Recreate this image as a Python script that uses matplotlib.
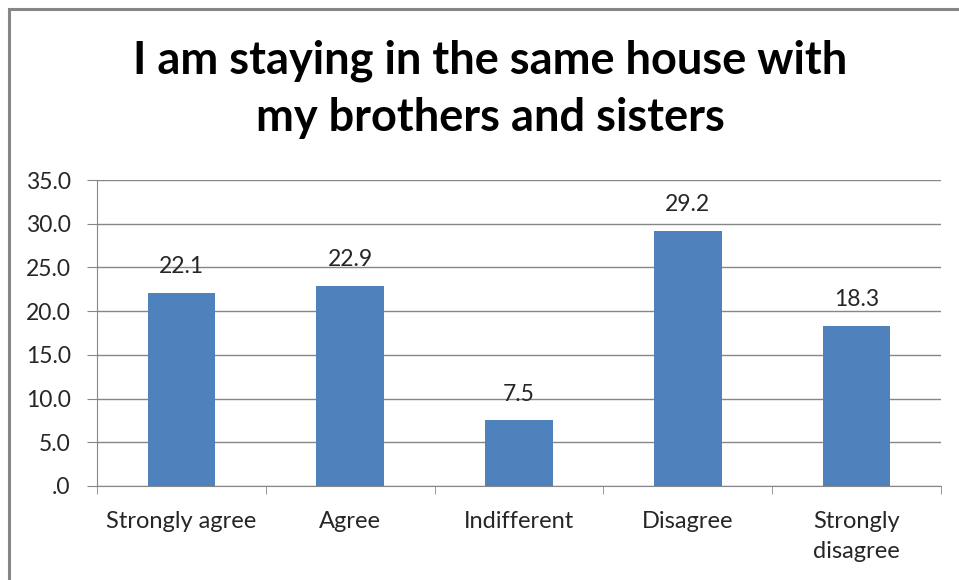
import matplotlib.pyplot as plt
from matplotlib.patches import Rectangle

categories = ['Strongly agree', 'Agree', 'Indifferent', 'Disagree', 'Strongly\ndisagree']
values = [22.1, 22.9, 7.5, 29.2, 18.3]
yticks = [0, 5, 10, 15, 20, 25, 30, 35]
ytick_labels = ['.0', '5.0', '10.0', '15.0', '20.0', '25.0', '30.0', '35.0']

plt.rcParams['font.family'] = ['Lato', 'DejaVu Sans']

fig = plt.figure(figsize=(9.59, 5.8), dpi=100)
# chart frame (left and top edges show, the rest runs off the page)
fig.patches.append(Rectangle((8.5 / 959, -0.1), 1.2, 1.1 - 9.5 / 580,
                             transform=fig.transFigure, fill=False,
                             edgecolor='#868686', linewidth=2.2))

ax = fig.add_axes([97 / 959, 1 - 486 / 580, 844 / 959, 306 / 580])
x = range(len(categories))
ax.bar(x, values, width=0.4, color='#4F81BD', zorder=3)
for xi, v in zip(x, values):
    ax.text(xi, v + 3.0, f'{v:.1f}', ha='center', va='center', fontsize=16.5, color='#262626')

ax.set_xlim(-0.5, len(categories) - 0.5)
ax.set_ylim(0, 35)
ax.set_yticks(yticks)
ax.set_yticklabels(ytick_labels, fontsize=16.5, color='#262626')
ax.set_xticks(x)
ax.set_xticklabels(categories, fontsize=17, color='#262626', linespacing=1.5)
ax.tick_params(axis='x', length=0, pad=18)
ax.tick_params(axis='y', length=7, color='#868686', pad=12)
# small tick marks between categories
ax.set_xticks([i - 0.5 for i in range(len(categories) + 1)], minor=True)
ax.tick_params(axis='x', which='minor', length=6, color='#868686')

ax.grid(axis='y', color='#868686', linewidth=1.0, zorder=0)
for s in ['top', 'right']:
    ax.spines[s].set_visible(False)
for s in ['left', 'bottom']:
    ax.spines[s].set_color('#868686')

fig.text(0.511, 1 - 89 / 580, 'I am staying in the same house with\nmy brothers and sisters',
         ha='center', va='center', fontsize=32.5, fontweight='bold', linespacing=1.45)

fig.savefig('out.png', dpi=100)
